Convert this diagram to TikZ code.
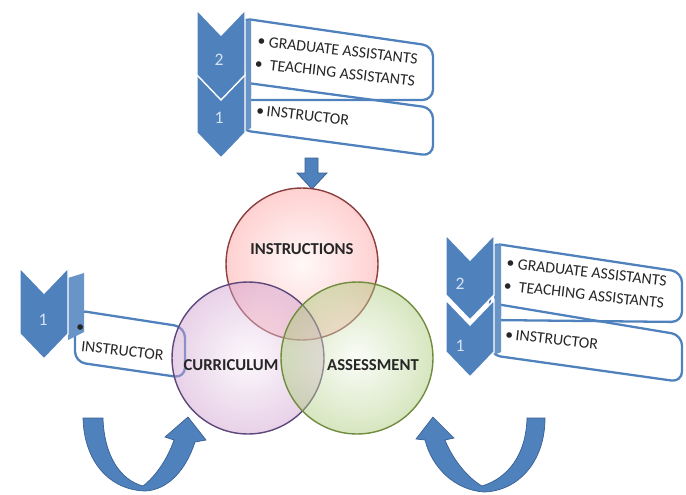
\documentclass[tikz,border=0pt]{standalone}
\usepackage{fontspec}
\setmainfont{Carlito}
\definecolor{ppblue}{RGB}{79,129,189}
\definecolor{ppdark}{RGB}{58,96,146}
\definecolor{pplight}{RGB}{214,227,241}
\definecolor{rededge}{RGB}{140,62,62}
\definecolor{purpedge}{RGB}{92,72,122}
\definecolor{greenedge}{RGB}{112,140,62}
\definecolor{vgreen}{RGB}{165,200,115}

\begin{document}
\begin{tikzpicture}[x=0.02cm,y=-0.02cm,
  chevfill/.style={fill=ppblue,draw=white,line width=0.8pt},
  tab/.style={fill=ppblue!85},
  boxfill/.style={fill=white,rounded corners=6pt},
  boxline/.style={draw=ppblue,line width=1.3pt,rounded corners=6pt},
  item/.style={anchor=west,rotate=-6.5,inner sep=0pt,align=left,font=\fontsize{9}{13}\selectfont,text=black!85},
  num/.style={text=pplight,font=\fontsize{10}{12}\selectfont},
  venn/.style={circle,minimum size=3.04cm,draw=#1,line width=0.8pt,shade,fill opacity=0.45},
  vlabel/.style={font=\fontsize{9.5}{11}\selectfont\bfseries,text=black!85},
  bigarrow/.style={fill=ppblue,draw=ppdark,line width=0.4pt},
  pics/chevron/.style={code={\draw[chevfill] (0,0) -- (24,25) -- (48,0) -- (48,#1) -- (24,#1+25) -- (0,#1) -- cycle;}}]
  \useasboundingbox (0,0) rectangle (686,494);

  % top list
  \path[boxfill] (240,18) -- (433,46) -- (433,100) -- (240,100) -- cycle;
  \path[boxfill] (240,82) -- (433,108) -- (433,156) -- (240,130) -- cycle;
  \draw[boxline] (240,18) -- (433,46) -- (433,100) -- (240,100) -- cycle;
  \draw[boxline] (240,82) -- (433,108) -- (433,156) -- (240,130) -- cycle;
  \fill[tab] (244,22) -- (251,20) -- (251,96) -- (244,98) -- cycle;
  \fill[tab] (244,84) -- (251,82) -- (251,128) -- (244,132) -- cycle;
  \pic at (197,73) {chevron=60};
  \pic at (197,10) {chevron=65};
  \node[num] (t2) at (219,60) {2};
  \node[num] (t1) at (219,118) {1};
  \node[item] (tasst) at (256,52) {\textbullet\ GRADUATE ASSISTANTS\\\textbullet\ \ TEACHING ASSISTANTS};
  \node[item] (tin) at (256,110) {\textbullet\,INSTRUCTOR};
  \filldraw[bigarrow] (305,158) -- (318,158) -- (318,173) -- (327,173) -- (312,189) -- (297,173) -- (305,173) -- cycle;

  % right list
  \path[boxfill] (490,243) -- (682,272) -- (682,322) -- (490,320) -- cycle;
  \path[boxfill] (490,303) -- (682,335) -- (682,382) -- (490,355) -- cycle;
  \draw[boxline] (490,243) -- (682,272) -- (682,322) -- (490,320) -- cycle;
  \draw[boxline] (490,303) -- (682,335) -- (682,382) -- (490,355) -- cycle;
  \fill[tab] (494,246) -- (501,244) -- (501,316) -- (494,318) -- cycle;
  \fill[tab] (494,306) -- (501,304) -- (501,352) -- (494,355) -- cycle;
  \pic at (446,300) {chevron=52};
  \pic at (446,235) {chevron=60};
  \node[num] (r2) at (460,284) {2};
  \node[num] (r1) at (460,346) {1};
  \node[item] (rasst) at (505,274) {\textbullet\ GRADUATE ASSISTANTS\\\textbullet\ \ TEACHING ASSISTANTS};
  \node[item] (rin) at (505,334) {\textbullet\,INSTRUCTOR};

  % left list
  \path[boxfill] (75,310) -- (185,327) -- (185,378) -- (75,362) -- cycle;
  \draw[boxline] (75,310) -- (185,327) -- (185,378) -- (75,362) -- cycle;
  \fill[tab] (68,278) -- (84,273) -- (84,332) -- (68,340) -- cycle;
  \pic at (20,268) {chevron=66};
  \node[num] (l1) at (43,320) {1};
  \node[item,rotate=0] (lbul) at (76,328) {\textbullet};
  \node[item] (lin) at (81,346) {INSTRUCTOR};

  % venn
  \node[venn=rededge,inner color=red!6,outer color=red!40] (instr) at (302,264) {};
  \node[venn=purpedge,inner color=violet!6,outer color=violet!40] (curr) at (248,358) {};
  \node[venn=greenedge,inner color=vgreen!12,outer color=vgreen] (assess) at (357,358) {};
  \node[vlabel] (instrlbl) at (302,249) {INSTRUCTIONS};
  \node[vlabel] (currlbl) at (231,365) {CURRICULUM};
  \node[vlabel] (assesslbl) at (373,365) {ASSESSMENT};

  % curved arrows
  \filldraw[bigarrow] (83,418) -- (103,418)
    .. controls (104,455) and (120,480) .. (143,486)
    .. controls (156,476) and (168,458) .. (174,440)
    -- (165,437) -- (188,417) -- (206,440) -- (195,442)
    .. controls (186,470) and (168,490) .. (145,491)
    .. controls (110,490) and (84,462) .. (83,418) -- cycle;
  \filldraw[bigarrow] (545,418) -- (527,418)
    .. controls (526,455) and (508,478) .. (482,486)
    .. controls (468,478) and (453,460) .. (445,440)
    -- (454,438) -- (433,417) -- (416,439) -- (425,440)
    .. controls (432,468) and (455,490) .. (484,492)
    .. controls (518,491) and (545,462) .. (545,418) -- cycle;
\end{tikzpicture}
\end{document}
